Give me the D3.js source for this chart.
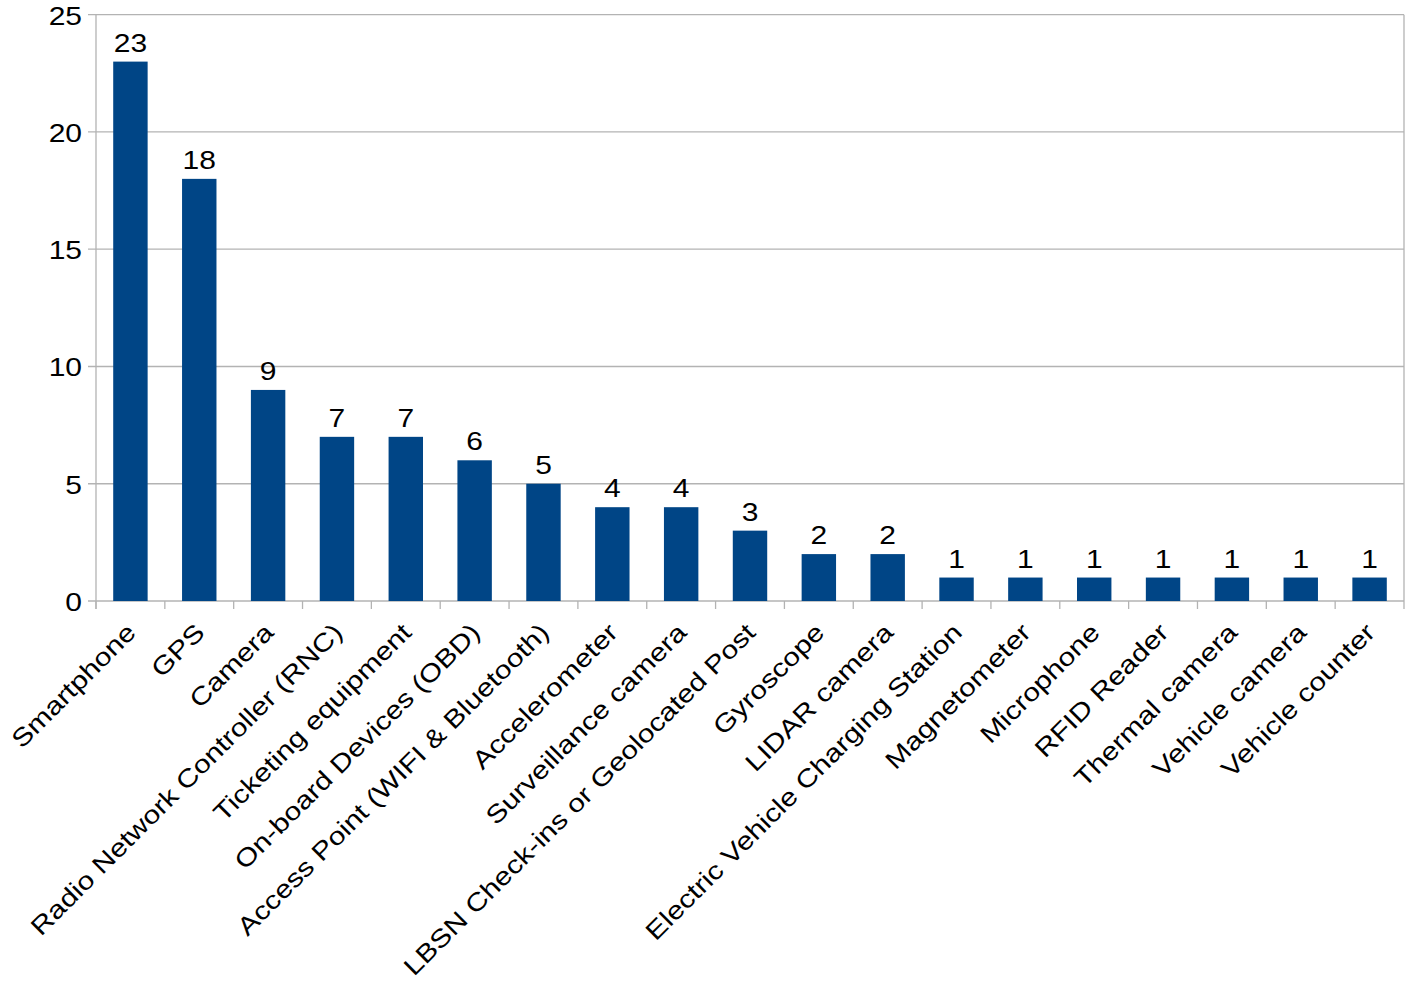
<!DOCTYPE html>
<html><head><meta charset="utf-8">
<script src="https://cdn.jsdelivr.net/npm/d3@7"></script>
<style>body{margin:0;background:#fff}svg{display:block}</style>
</head><body>
<svg id="chart" width="1412" height="987"></svg>
<script>
const categories = ["Smartphone","GPS","Camera","Radio Network Controller (RNC)","Ticketing equipment","On-board Devices (OBD)","Access Point (WIFI & Bluetooth)","Accelerometer","Surveillance camera","LBSN Check-ins or Geolocated Post","Gyroscope","LIDAR camera","Electric Vehicle Charging Station","Magnetometer","Microphone","RFID Reader","Thermal camera","Vehicle camera","Vehicle counter"];
const values = [23,18,9,7,7,6,5,4,4,3,2,2,1,1,1,1,1,1,1];
const yTicks = [0,5,10,15,20,25];

(function () {
const svg = d3.select("#chart");
const pL = 96, pR = 1404, pT = 14.7, pB = 601;
const font = "'Liberation Sans', Arial, sans-serif";
const fs = 25, sx = 1.2;
const x = d3.scaleBand().domain(categories).range([pL, pR]).paddingInner(0.5).paddingOuter(0.25);
const xb = d3.scaleBand().domain(categories).range([pL, pR]);
const y = d3.scaleLinear().domain([0, 25]).range([pB, pT]);

svg.append("g").selectAll("line").data(yTicks).join("line")
  .attr("x1", pL - 8).attr("x2", pR).attr("y1", d => y(d)).attr("y2", d => y(d))
  .attr("stroke", "#b3b3b3").attr("stroke-width", 1.3);
svg.append("line").attr("x1", pR).attr("x2", pR).attr("y1", pT).attr("y2", pB)
  .attr("stroke", "#b3b3b3").attr("stroke-width", 1.3);
svg.append("line").attr("x1", pL).attr("x2", pL).attr("y1", pT).attr("y2", pB + 8)
  .attr("stroke", "#b3b3b3").attr("stroke-width", 1.3);
const bounds = categories.map(c => xb(c)).concat([pR]);
svg.append("g").selectAll("line").data(bounds).join("line")
  .attr("x1", d => d).attr("x2", d => d).attr("y1", pB).attr("y2", pB + 8)
  .attr("stroke", "#b3b3b3").attr("stroke-width", 1.3);
svg.append("g").selectAll("text").data(yTicks).join("text")
  .attr("transform", d => `translate(82,${y(d)}) scale(${sx},1)`).attr("dy", "0.4em")
  .attr("text-anchor", "end").attr("font-family", font).attr("font-size", fs)
  .attr("fill", "#000").text(d => d);
svg.append("g").selectAll("rect").data(values).join("rect")
  .attr("x", (d, i) => x(categories[i])).attr("width", x.bandwidth())
  .attr("y", d => y(d)).attr("height", d => y(0) - y(d))
  .attr("fill", "#004586");
svg.append("g").selectAll("text").data(values).join("text")
  .attr("transform", (d, i) => `translate(${x(categories[i]) + x.bandwidth() / 2},${y(d) - 10}) scale(${sx},1)`)
  .attr("text-anchor", "middle").attr("font-family", font).attr("font-size", fs)
  .attr("fill", "#000").text(d => d);
svg.append("g").selectAll("text").data(categories).join("text")
  .attr("transform", d => `translate(${xb(d) + xb.bandwidth() / 2 + 7},${pB + 33}) rotate(-45) scale(${sx},1)`)
  .attr("text-anchor", "end").attr("font-family", font).attr("font-size", fs)
  .attr("fill", "#000").text(d => d);
})();
</script>
</body></html>
